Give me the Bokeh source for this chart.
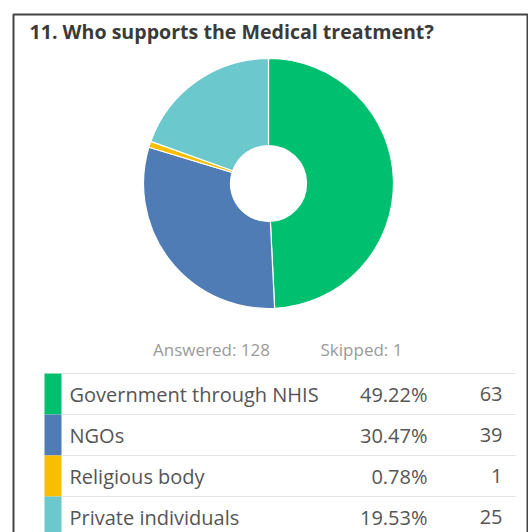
import math
from bokeh.plotting import figure
from bokeh.models import ColumnDataSource, Range1d
from bokeh.core.properties import value
from bokeh.embed import file_html
from bokeh.resources import INLINE

# ---- data ----
title = "11. Who supports the Medical treatment?"
labels = ["Government through NHIS", "NGOs", "Religious body", "Private individuals"]
percents = [49.22, 30.47, 0.78, 19.53]
counts = [63, 39, 1, 25]
colors = ["#00BF6F", "#507CB6", "#F9BE00", "#6BC8CD"]
answered = 128
skipped = 1

W, H = 528, 532
FONT = "Open Sans"

def Y(y):
    return H - y

p = figure(width=W, height=H, output_backend="svg", toolbar_location=None,
           x_range=Range1d(0, W), y_range=Range1d(0, H),
           x_axis_type=None, y_axis_type=None, min_border=0)
p.grid.visible = False
p.outline_line_color = None
p.background_fill_color = "white"
p.border_fill_color = "white"

# frame
p.quad(left=[13], right=[527], top=[Y(14)], bottom=[Y(545)],
       fill_color=None, line_color="#444444", line_width=2)

# title
p.text(x=[29], y=[Y(31)], text=[title], text_font=value(FONT),
       text_font_style="bold", text_font_size="19.6px", text_color="#3a3a3a",
       text_baseline="middle", text_align="left")

# donut
total = float(sum(counts))
starts, ends = [], []
cum = 0.0
for c in counts:
    f0 = cum / total
    cum += c
    f1 = cum / total
    starts.append(math.pi / 2 - f1 * 2 * math.pi)
    ends.append(math.pi / 2 - f0 * 2 * math.pi)
cx, cy = 268, 183
src = ColumnDataSource(dict(x=[cx] * len(counts), y=[Y(cy)] * len(counts),
                            start=starts, end=ends, color=colors))
p.annular_wedge(x="x", y="y", inner_radius=38, outer_radius=125,
                start_angle="start", end_angle="end", fill_color="color",
                line_color="white", line_width=1.2, source=src)

# answered / skipped
p.text(x=[211, 361], y=[Y(349)] * 2,
       text=[f"Answered: {answered}", f"Skipped: {skipped}"],
       text_font=value(FONT), text_font_size="17px", text_color="#9a9a9a",
       text_baseline="middle", text_align="center")

# table
row_h = 41
top0 = 373
n = len(labels)
tops = [top0 + i * row_h for i in range(n)]
p.quad(left=[44] * n, right=[61] * n, top=[Y(t) for t in tops],
       bottom=[Y(t + row_h) for t in tops], fill_color=colors, line_color=None)
p.segment(x0=[61] * n, x1=[515] * n, y0=[Y(t) for t in tops],
          y1=[Y(t) for t in tops], line_color="#e3e3e3", line_width=1)
mids = [Y(t + row_h / 2) for t in tops]
p.text(x=[69] * n, y=mids, text=labels, text_font=value(FONT),
       text_font_size="20px", text_color="#555555", text_baseline="middle",
       text_align="left")
p.text(x=[427] * n, y=mids, text=[f"{v:.2f}%" for v in percents],
       text_font=value(FONT), text_font_size="20px", text_color="#555555",
       text_baseline="middle", text_align="right")
p.text(x=[502] * n, y=mids, text=[str(c) for c in counts],
       text_font=value(FONT), text_font_size="20px", text_color="#555555",
       text_baseline="middle", text_align="right")

open("out.html", "w").write(file_html(p, INLINE))
